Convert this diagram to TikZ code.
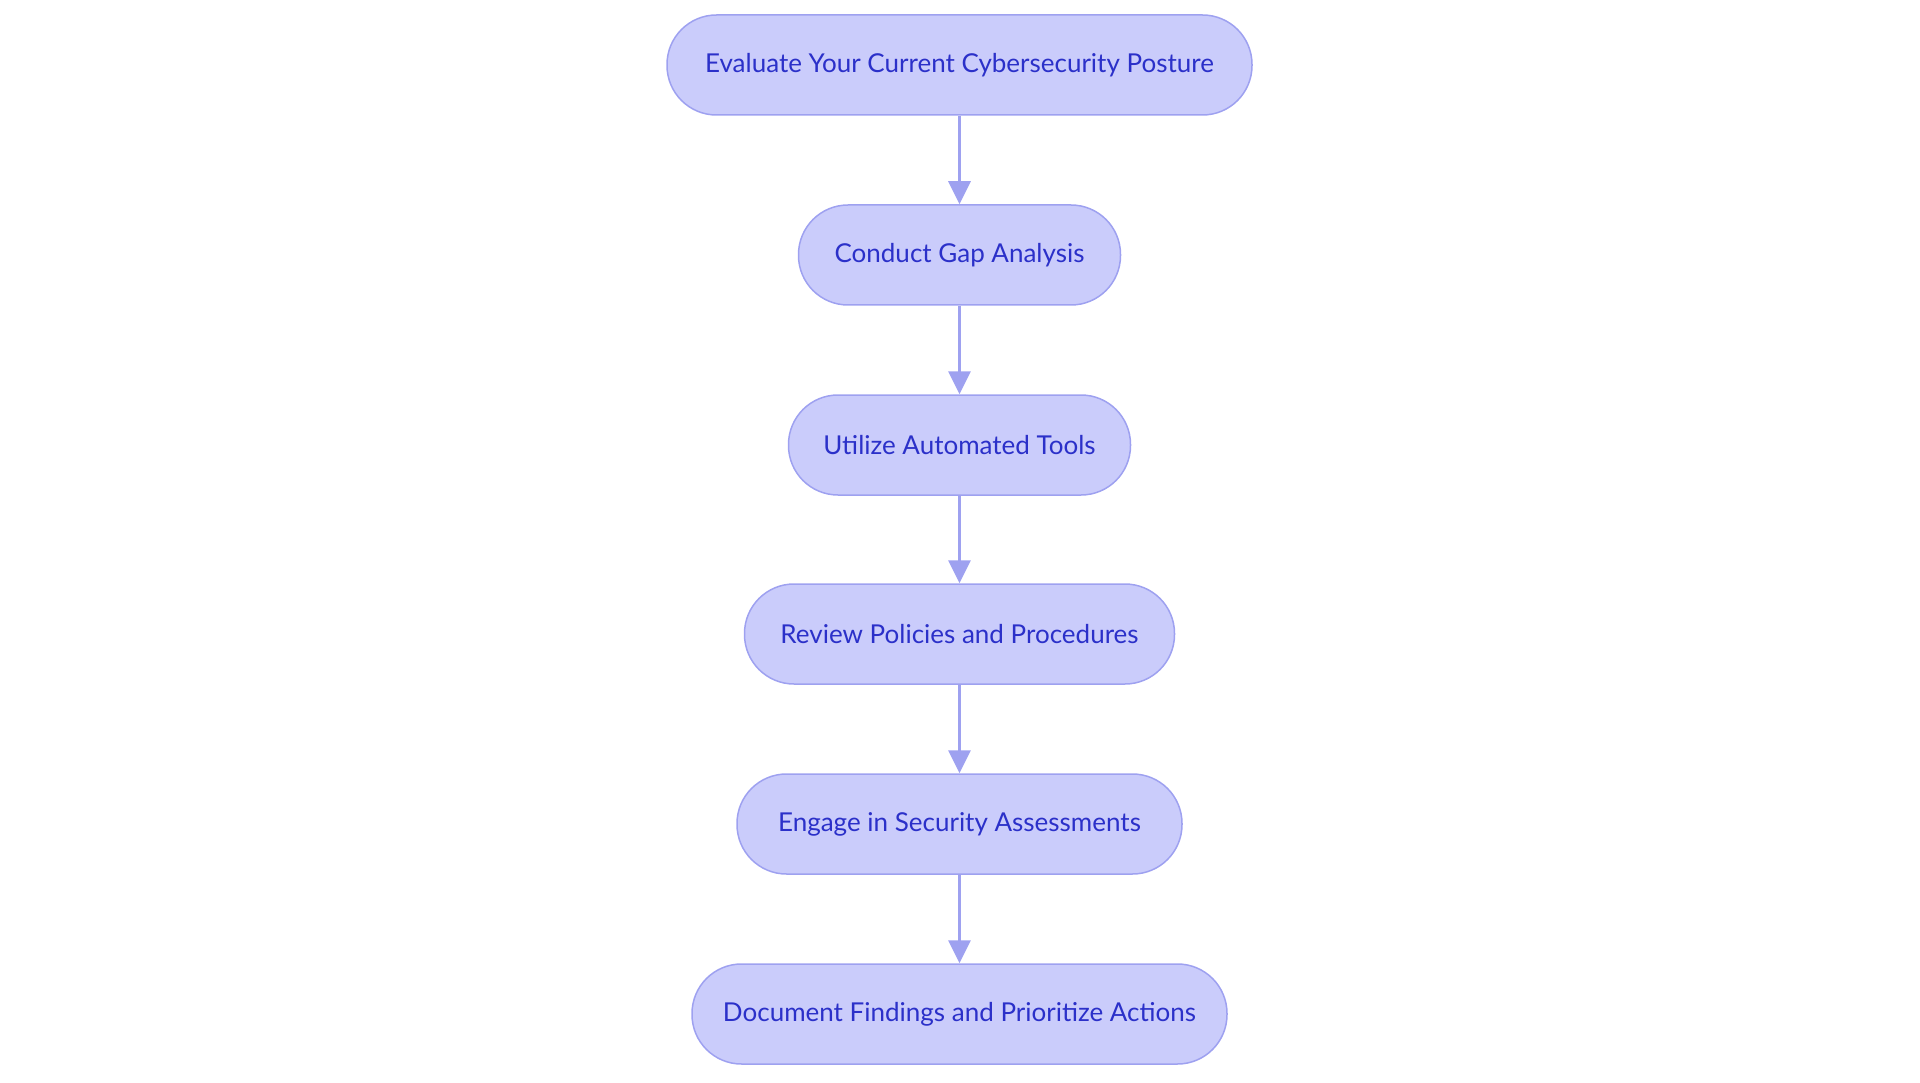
\documentclass[tikz,border=0pt]{standalone}
\usepackage{fontspec}
\setmainfont{Lato}
\usetikzlibrary{arrows.meta}
\definecolor{nodefill}{HTML}{CACCFB}
\definecolor{nodeline}{HTML}{9EA1F0}
\definecolor{nodetext}{HTML}{2B30C9}
\begin{document}
\begin{tikzpicture}[x=1pt,y=-1pt,
  stepnode/.style={draw=nodeline, fill=nodefill, line width=1.5pt, rounded corners=49.5pt,
    minimum height=100pt, inner sep=0pt, text=nodetext, font=\fontsize{26}{30}\selectfont},
  flow/.style={draw=nodeline, line width=3pt, -{Triangle[length=23pt,width=22pt]}}]
\useasboundingbox (0,0) rectangle (1920,1083);
\node[stepnode, minimum width=585pt] (n1) at (959.5,65) {Evaluate Your Current Cybersecurity Posture};
\node[stepnode, minimum width=322pt] (n2) at (959.5,255) {Conduct Gap Analysis};
\node[stepnode, minimum width=342pt] (n3) at (959.5,445) {Utilize Automated Tools};
\node[stepnode, minimum width=430pt] (n4) at (959.5,634) {Review Policies and Procedures};
\node[stepnode, minimum width=445pt] (n5) at (959.5,824) {Engage in Security Assessments};
\node[stepnode, minimum width=535pt] (n6) at (959.5,1014) {Document Findings and Prioritize Actions};
\draw[flow] (n1) -- (n2);
\draw[flow] (n2) -- (n3);
\draw[flow] (n3) -- (n4);
\draw[flow] (n4) -- (n5);
\draw[flow] (n5) -- (n6);
\end{tikzpicture}
\end{document}
